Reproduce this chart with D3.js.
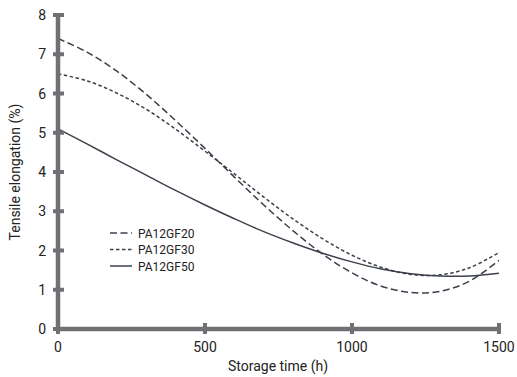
<!DOCTYPE html>
<html><head><meta charset="utf-8">
<script src="https://cdn.jsdelivr.net/npm/d3@7"></script>
<style>body{margin:0;background:#fff}svg{display:block}text{font-family:Roboto,"Liberation Sans Narrow",sans-serif;fill:#222}</style>
</head><body><svg id="c" width="517" height="377"></svg>
<script>
const times = [0,100,200,300,400,500,600,700,800,900,1000,1100,1200,1300,1400,1500];
const gf20 = [7.4,7.05,6.57,5.98,5.31,4.6,3.87,3.16,2.5,1.91,1.43,1.09,0.93,0.96,1.22,1.75];
const gf30 = [6.5,6.32,6.01,5.6,5.09,4.53,3.95,3.36,2.8,2.3,1.88,1.57,1.39,1.38,1.56,1.95];
const gf50 = [5.1,4.71,4.31,3.92,3.53,3.16,2.81,2.48,2.19,1.93,1.71,1.53,1.41,1.35,1.35,1.42];
const seriesNames = ["PA12GF20","PA12GF30","PA12GF50"];
const xTicks = [0,500,1000,1500];
const yTicks = [0,1,2,3,4,5,6,7,8];

const svg = d3.select("#c");
const x = d3.scaleLinear().domain([0,1500]).range([58,499]);
const y = d3.scaleLinear().domain([0,8]).range([329,15]);
const axisColor = "#707174";
const lineColor = "#3b404b";
const dashes = ["7,3.5","3.5,2.5",null];
const series = [gf20,gf30,gf50];

const line = d3.line().x((d,i)=>x(times[i])).y(d=>y(d)).curve(d3.curveCatmullRom.alpha(0.5));
series.forEach((s,k)=>{
  svg.append("path").attr("d",line(s)).attr("fill","none").attr("stroke",lineColor)
    .attr("stroke-width",1.5).attr("stroke-dasharray",dashes[k]);
});

// axes
svg.append("line").attr("x1",x(0)).attr("x2",x(0)).attr("y1",y(8)).attr("y2",y(0)+2)
  .attr("stroke",axisColor).attr("stroke-width",4.5);
svg.append("line").attr("x1",x(0)-2).attr("x2",x(1500)).attr("y1",y(0)).attr("y2",y(0))
  .attr("stroke",axisColor).attr("stroke-width",4.5);
yTicks.forEach(t=>{
  svg.append("line").attr("x1",x(0)-5).attr("x2",x(0)+6).attr("y1",y(t)).attr("y2",y(t))
    .attr("stroke",axisColor).attr("stroke-width",4);
  svg.append("text").attr("x",46).attr("y",y(t)+5).attr("text-anchor","end")
    .attr("font-size",14).text(t);
});
xTicks.forEach(t=>{
  svg.append("line").attr("x1",x(t)).attr("x2",x(t)).attr("y1",y(0)-6).attr("y2",y(0)+5)
    .attr("stroke",axisColor).attr("stroke-width",4);
  svg.append("text").attr("x",x(t)).attr("y",352).attr("text-anchor","middle")
    .attr("font-size",14).text(t);
});
svg.append("text").attr("x",278).attr("y",371).attr("text-anchor","middle")
  .attr("font-size",14).text("Storage time (h)");
svg.append("text").attr("transform","translate(20,172) rotate(-90)").attr("text-anchor","middle")
  .attr("font-size",14).text("Tensile elongation (%)");

// legend
seriesNames.forEach((n,k)=>{
  const ly = 233 + k*16.5;
  svg.append("line").attr("x1",110).attr("x2",132).attr("y1",ly).attr("y2",ly)
    .attr("stroke",lineColor).attr("stroke-width",1.5).attr("stroke-dasharray",dashes[k]);
  svg.append("text").attr("x",138).attr("y",ly+4.5).attr("font-size",12).text(n);
});
</script></body></html>
